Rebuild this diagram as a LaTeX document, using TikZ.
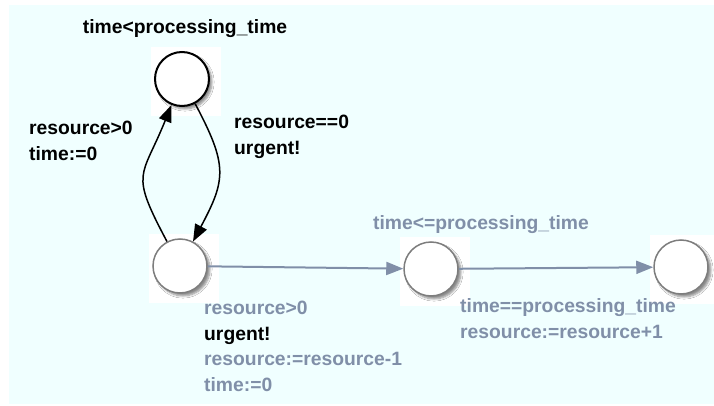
\documentclass[tikz,border=0pt]{standalone}
\usepackage{fontspec}
\setmainfont{Liberation Sans}
\usetikzlibrary{positioning,arrows.meta,shadows.blur,backgrounds}

\definecolor{paper}{RGB}{240,255,255}
\definecolor{guard}{RGB}{128,143,168}
\definecolor{ring}{RGB}{125,125,125}

\tikzset{
  loc/.style={circle,draw=ring,line width=1.5pt,fill=white,minimum size=54pt,inner sep=0pt,
    blur shadow={shadow xshift=3pt,shadow yshift=-3pt,shadow blur steps=6,shadow opacity=45}},
  lbl/.style={inner sep=0pt,anchor=base west,align=left,font=\bfseries\fontsize{19.3}{25.5}\selectfont},
}

\begin{document}
\begin{tikzpicture}[x=1pt,y=1pt,>={Triangle[length=17pt,width=13pt]}]
  \useasboundingbox (0,0) rectangle (714,405);

  % locations
  \node[loc,draw=black,line width=2pt] (l1) at (182,326) {};
  \node[loc] (l2) at (180,139) {};
  \node[loc] (l3) at (431,136) {};
  \node[loc] (l4) at (681,138) {};

  % paper and the white patch behind each location
  \begin{scope}[on background layer]
    \fill[paper] (9,1) rectangle (714,400);
    \foreach \l in {l1,l2,l3,l4}
      \fill[white] ([shift={(-31,32)}]\l.center) rectangle ([shift={(39,-37)}]\l.center);
  \end{scope}

  % invariants
  \node[lbl,anchor=base] (i1) at (185,371) {time<processing\_time};
  \node[lbl,text=guard] (i3) at (373,176) {time<=processing\_time};

  % edge labels (base = last line)
  \node[lbl] (e1) at (29,245) {resource>0\\time:=0};
  \node[lbl] (e2) at (234,251) {resource==0\\urgent!};
  \node[lbl,text=guard] (e3) at (204,14)
    {resource>0\\\textcolor{black}{urgent!}\\resource:=resource-1\\time:=0};
  \node[lbl,text=guard] (e4) at (460,67) {time==processing\_time\\resource:=resource+1};

  % transitions
  \draw[->,line width=1.5pt] (l2) to[out=118,in=-112,looseness=1.5] (l1);
  \draw[->,line width=1.5pt] (l1) to[out=-62,in=62,looseness=1.3] (l2);
  \draw[->,guard,line width=2pt] (l2) -- (l3);
  \draw[->,guard,line width=2pt] (l3) -- (l4);
\end{tikzpicture}
\end{document}
